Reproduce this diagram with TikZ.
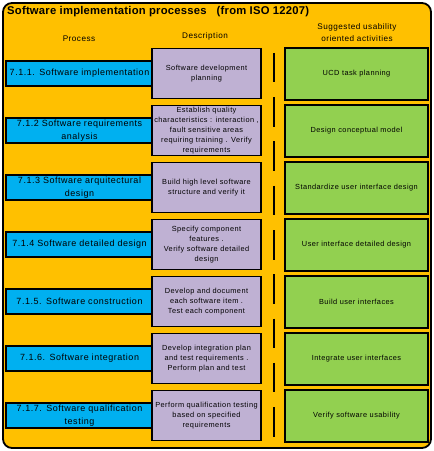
\documentclass[tikz,border=0pt]{standalone}
\usepackage{fontspec}
\setmainfont{Liberation Sans}
\newfontfamily\spfont[LetterSpace=6]{Liberation Sans}
\newfontfamily\tifont[LetterSpace=2]{Liberation Sans}
\definecolor{frameor}{HTML}{FFC000}
\definecolor{procblue}{HTML}{00B0F0}
\definecolor{desclav}{HTML}{BFB1D3}
\definecolor{actgreen}{HTML}{92D050}
\begin{document}
\begin{tikzpicture}[x=1bp,y=-1bp,
  procbox/.style={draw=black,line width=1.6bp,fill=procblue,minimum width=145bp,minimum height=25bp,inner sep=1bp,align=center,font=\spfont\fontsize{9}{12.5}\selectfont,text width=145bp},
  descbox/.style={draw=black,line width=1.6bp,fill=desclav,minimum width=109bp,minimum height=50bp,inner sep=1bp},
  desctext/.style={align=center,font=\spfont\fontsize{7.4}{10}\selectfont,text width=112bp,inner sep=0pt},
  actbox/.style={draw=black,line width=1.6bp,fill=actgreen,minimum width=143bp,minimum height=52bp,inner sep=1bp,align=center,font=\spfont\fontsize{7.4}{10}\selectfont},
  headtext/.style={align=center,font=\spfont\fontsize{8.2}{12.5}\selectfont,inner sep=0pt}]
\useasboundingbox (0,0) rectangle (434,451);
\draw[line width=1.8bp,fill=frameor,rounded corners=9bp] (3,3) rectangle (431,448);
\node[anchor=west,inner sep=0pt,font=\tifont\bfseries\fontsize{11.3}{12}\selectfont] (title) at (7,11.5) {Software implementation processes \ \ (from ISO 12207)};
\node[headtext] (hproc) at (79,39) {Process};
\node[headtext] (hdesc) at (205,36) {Description};
\node[headtext] (hact) at (357,32.5) {Suggested usability\\oriented activities};
% dashed separator
\coordinate (sepTop) at (273.5,53);
\coordinate (sepBot) at (273.5,437);
\draw[line width=2bp,dash pattern=on 29.5bp off 14.75bp] (sepTop) -- (sepBot);
% rows
\foreach \i/\ptext/\dtext/\atext in {
  1/{7.1.1. Software implementation}/{Software development\\planning}/{UCD task planning},
  2/{7.1.2 Software requirements\\analysis}/{Establish quality\\characteristics : interaction ,\\fault sensitive areas\\requiring training . Verify\\requirements}/{Design conceptual model},
  3/{7.1.3 Software arquitectural\\design}/{Build high level software\\structure and verify it}/{Standardize user interface design},
  4/{7.1.4 Software detailed design}/{Specify component\\features .\\Verify software detailed\\design}/{User interface detailed design},
  5/{7.1.5. Software construction}/{Develop and document\\each software item .\\Test each component}/{Build user interfaces},
  6/{7.1.6. Software integration}/{Develop integration plan\\and test requirements .\\Perform plan and test}/{Integrate user interfaces},
  7/{7.1.7. Software qualification\\testing}/{Perform qualification testing\\based on specified\\requirements}/{Verify software usability}} {
  \pgfmathsetmacro{\yc}{73.5+57*(\i-1)}
  \node[procbox] (p\i) at (79.5,\yc) {\ptext};
  \node[descbox] (d\i) at (206.5,\yc) {};
  \node[desctext] (dt\i) at (d\i.center) {\dtext};
  \node[actbox] (a\i) at (356.5,\yc+0.5) {\atext};
}
\end{tikzpicture}
\end{document}
